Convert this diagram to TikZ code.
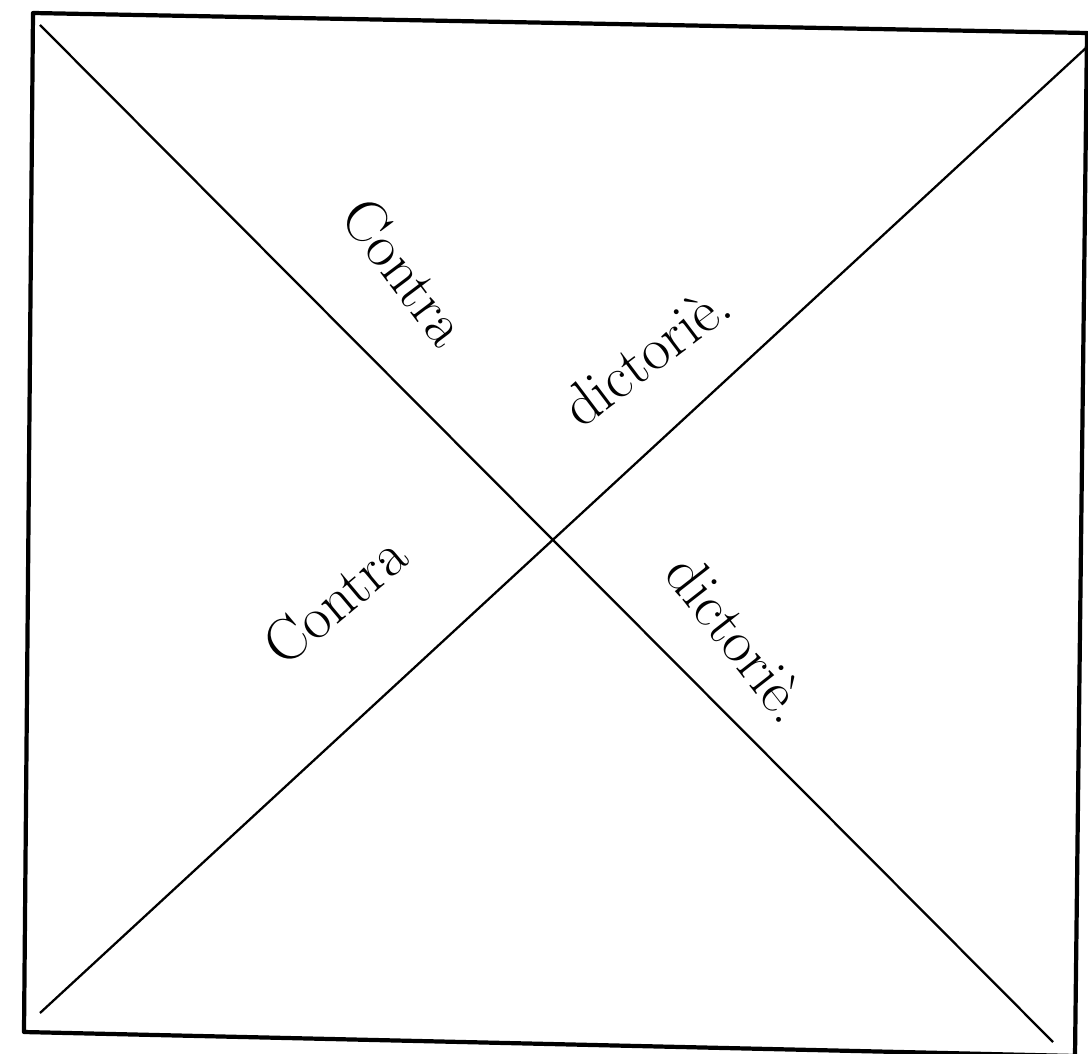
\documentclass[tikz,border=0pt]{standalone}
\usepackage{fontspec}
\begin{document}
\begin{tikzpicture}[
    x=0.02cm,
    y=-0.02cm,
    frame/.style={
        line width=2.4pt,
        draw=black,
        line join=round
    },
    diag/.style={
        line width=1.3pt,
        draw=black
    },
    lab/.style={
        font=\fontsize{34}{40}\selectfont,
        inner sep=0pt
    }
]
\useasboundingbox (0,0) rectangle (1088,1054);
\coordinate (tl) at (33,13);
\coordinate (tr) at (1087,33);
\coordinate (br) at (1075,1056);
\coordinate (bl) at (24,1032);
\coordinate (dtl) at (40,25);
\coordinate (dbr) at (1053,1042);
\coordinate (dtr) at (1087,47);
\coordinate (dbl) at (40,1013);
\draw[frame] (tl) -- (tr) -- (br) -- (bl) -- cycle;
\draw[diag] (dtl) -- (dbr);
\draw[diag] (dtr) -- (dbl);
\node[lab, rotate=-53] (contraup) at (405,272) {Contra};
\node[lab, rotate=37] (dictup) at (646,355) {dictoriè.};
\node[lab, rotate=40] (contralo) at (335,600) {Contra};
\node[lab, rotate=-52] (dictlo) at (738,638) {dictoriè.};
\end{tikzpicture}
\end{document}
